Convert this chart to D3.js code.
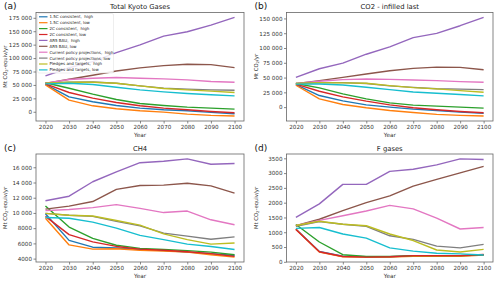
<!DOCTYPE html>
<html><head><meta charset="utf-8">
<script src="https://cdn.jsdelivr.net/npm/d3@7"></script>
<style>
body{margin:0;background:#fff;}
svg{font-family:"DejaVu Sans",sans-serif;}
text{white-space:pre;}
</style></head>
<body><svg id="c" width="500" height="282"></svg>
<script>
const years = [2020,2030,2040,2050,2060,2070,2080,2090,2100];
const seriesNames = [
 "1.5C consistent,  high","1.5C consistent, low","2C consistent,  high","2C consistent, low",
 "AR5 BAU,  high","AR5 BAU, low","Current policy projections,  high","Current policy projections, low",
 "Pledges and targets,  high","Pledges and targets, low"];
const colors = ["#1f77b4","#ff7f0e","#2ca02c","#d62728","#9467bd","#8c564b","#e377c2","#7f7f7f","#bcbd22","#17becf"];

const kyotoValues = [
 [51000,27800,18600,11800,6800,3700,1900,-1200,-3700],
 [50000,21700,11100,5600,1900,-600,-4300,-6800,-8000],
 [54000,43900,32800,22900,15500,11800,8700,6800,5000],
 [52000,35900,25400,17300,11100,6800,3700,600,-1900],
 [66800,82000,93500,110000,124500,141000,149000,161500,175700],
 [53000,60600,68000,76000,81700,86000,88500,87900,82300],
 [53000,60000,62500,63700,62500,61300,59400,56300,55100],
 [53000,55000,55500,53000,48300,44000,42100,40800,40200],
 [53000,55000,55000,53200,48300,43300,40800,38400,35900],
 [52000,53200,50700,45800,40800,37100,34000,31600,29700]];
const co2Values = [
 [38000,19600,10600,3900,0,-3400,-5600,-8400,-10600],
 [37000,14000,4500,-1100,-5600,-9000,-12300,-14000,-15100],
 [40000,32500,22400,14000,7300,3400,1700,0,-1700],
 [39000,26900,17400,10100,3900,-1100,-4500,-7300,-9500],
 [50400,64900,74400,89500,101900,117500,124800,137700,151700],
 [39700,44800,50400,56000,61600,65500,67700,67200,63200],
 [40000,43700,46500,47600,47000,45900,44800,43100,42000],
 [40000,41500,41500,40000,36000,33500,31200,30500,29700],
 [40000,41500,41000,40300,36400,33000,30800,28000,25200],
 [39000,39200,37500,33600,29700,25700,23500,21300,19000]];
const ch4Values = [
 [9900,6400,5500,5400,5200,5050,4850,4650,4400],
 [9300,5800,5250,5300,5100,5000,4850,4500,4200],
 [10900,8150,6650,5750,5350,5200,5050,4850,4500],
 [9550,7150,6200,5600,5250,5100,4900,4650,4300],
 [11600,12200,14100,15400,16600,16800,17100,16400,16500],
 [10500,10900,11500,13100,13600,13650,13900,13550,12600],
 [10300,10450,10700,11100,10600,10050,10250,9100,8450],
 [9950,9700,9550,8900,8300,7350,6950,6550,6850],
 [9950,9700,9600,9000,8400,7250,6500,5900,6050],
 [9400,9300,8800,8000,7050,6500,5900,5600,5200]];
const fgasValues = [
 [1110,350,190,170,170,200,200,200,240],
 [1100,330,170,160,160,190,190,190,230],
 [1260,670,240,180,180,210,210,210,230],
 [1090,340,180,160,170,210,210,210,250],
 [1500,1960,2620,2620,3060,3130,3280,3480,3460],
 [1220,1440,1730,2000,2230,2560,2790,3010,3230],
 [1220,1400,1560,1720,1910,1790,1480,1110,1160],
 [1200,1360,1270,1200,880,760,530,470,590],
 [1230,1370,1270,1220,940,720,400,330,420],
 [1130,1160,940,800,470,360,290,270,230]];

const kyotoTicks = [0,25000,50000,75000,100000,125000,150000,175000];
const co2Ticks = [0,25000,50000,75000,100000,125000,150000];
const ch4Ticks = [4000,6000,8000,10000,12000,14000,16000];
const fgasTicks = [0,500,1000,1500,2000,2500,3000,3500];
const panelLabels = ["(a)","(b)","(c)","(d)"];
const panelTitles = ["Total Kyoto Gases","CO2 - infilled last","CH4","F gases"];

const panels = [
 {label:panelLabels[0],title:panelTitles[0],unit:"equiv",data:kyotoValues,ticks:kyotoTicks,box:[36,12.5,244,121],legend:true},
 {label:panelLabels[1],title:panelTitles[1],unit:"co2",data:co2Values,ticks:co2Ticks,box:[286.5,12.5,493,121]},
 {label:panelLabels[2],title:panelTitles[2],unit:"equiv",data:ch4Values,ticks:ch4Ticks,box:[36,154,244,262]},
 {label:panelLabels[3],title:panelTitles[3],unit:"equiv",data:fgasValues,ticks:fgasTicks,box:[286.5,154,493,262]}
];

const fmt = v => Math.abs(v) >= 10000 ? d3.format(",")(v).replace(/,/g," ") : String(v);
const svg = d3.select("#c");

panels.forEach((p,pi)=>{
  const [x0,y0,x1,y1] = p.box;
  const allV = p.data.flat();
  const [mn,mx] = d3.extent(allV);
  const pad = (mx-mn)*0.05;
  const x = d3.scaleLinear().domain([2016,2104]).range([x0,x1]);
  const y = d3.scaleLinear().domain([mn-pad,mx+pad]).range([y1,y0]);
  const g = svg.append("g");

  const line = d3.line().x((d,i)=>x(years[i])).y(d=>y(d));
  p.data.forEach((s,si)=>{
    g.append("path").attr("d",line(s)).attr("fill","none")
     .attr("stroke",colors[si]).attr("stroke-width",1.4).attr("stroke-linejoin","round");
  });

  const xa = g.append("g").attr("transform",`translate(0,${y1})`)
    .call(d3.axisBottom(x).tickValues(years).tickFormat(d3.format("d")).tickSize(2.5).tickPadding(1.5));
  const ya = g.append("g").attr("transform",`translate(${x0},0)`)
    .call(d3.axisLeft(y).tickValues(p.ticks).tickFormat(fmt).tickSize(2.5).tickPadding(1.5));
  [xa,ya].forEach(a=>{
    a.select(".domain").remove();
    a.selectAll("line").attr("stroke","#555").attr("stroke-width",0.7);
    a.selectAll("text").attr("font-size",5.6).attr("fill","#333").attr("font-family","DejaVu Sans");
  });
  g.append("rect").attr("x",x0).attr("y",y0).attr("width",x1-x0).attr("height",y1-y0)
    .attr("fill","none").attr("stroke","#666").attr("stroke-width",0.8);

  g.append("text").attr("x",(x0+x1)/2).attr("y",y0-3.5).attr("text-anchor","middle")
    .attr("font-size",6.8).attr("fill","#222").text(p.title);
  g.append("text").attr("x",x0-32).attr("y",y0-3.5).attr("font-size",9).attr("fill","#111").text(p.label);
  g.append("text").attr("x",(x0+x1)/2).attr("y",y1+16).attr("text-anchor","middle")
    .attr("font-size",5.7).attr("fill","#333").text("Year");
  const yl = g.append("text").attr("transform",`translate(${x0-29},${(y0+y1)/2}) rotate(-90)`)
    .attr("text-anchor","middle").attr("font-size",5.3).attr("fill","#333");
  yl.append("tspan").text("Mt CO");
  yl.append("tspan").attr("font-size",3.7).attr("dy",1).text("2");
  yl.append("tspan").attr("dy",-1).text(p.unit==="co2" ? "/yr" : "-equiv/yr");

  if(p.legend){
    const lg = g.append("g");
    const lx = x0+1.5, ly = y0+1;
    lg.append("rect").attr("x",lx).attr("y",ly).attr("width",76).attr("height",59.5).attr("rx",1.5)
      .attr("fill","#fff").attr("fill-opacity",0.85).attr("stroke","#ddd").attr("stroke-width",0.5);
    seriesNames.forEach((n,i)=>{
      const yy = ly+3.3+i*5.9;
      lg.append("line").attr("x1",lx+1.5).attr("x2",lx+10).attr("y1",yy).attr("y2",yy)
        .attr("stroke",colors[i]).attr("stroke-width",1.2);
      lg.append("text").attr("x",lx+12).attr("y",yy+1.4).attr("font-size",4).attr("fill","#222").text(n);
    });
  }
});
</script></body></html>
